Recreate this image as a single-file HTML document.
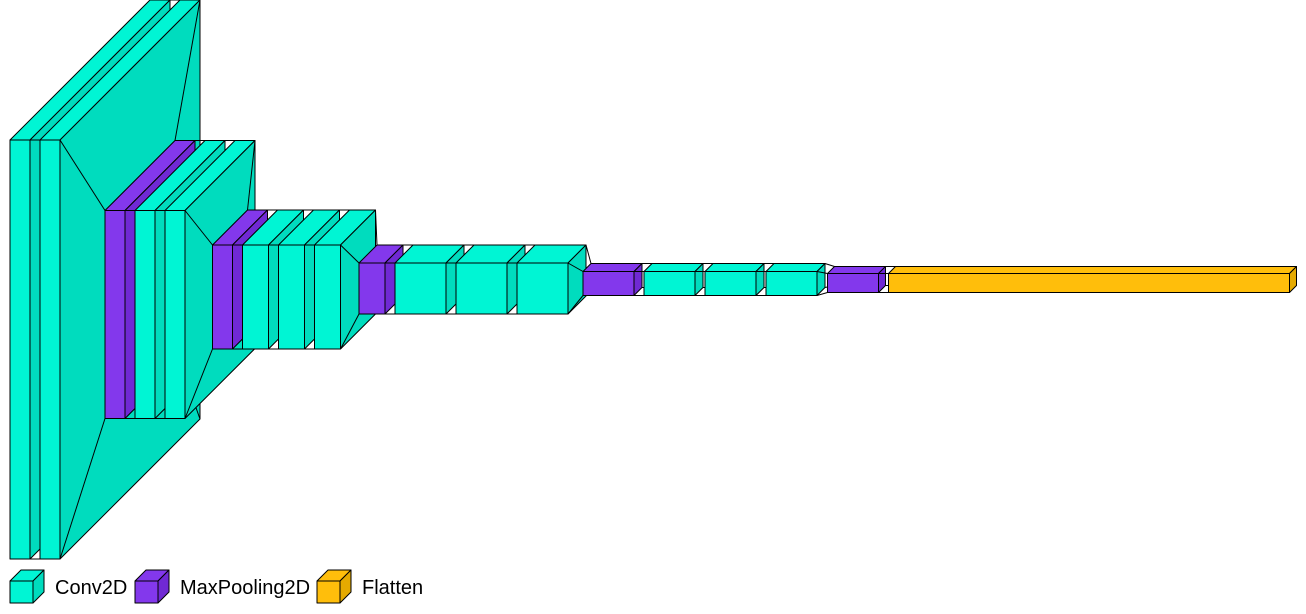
<!DOCTYPE html>
<html><head><meta charset="utf-8"><style>
html,body{margin:0;padding:0;background:#fff;}
svg{display:block;}
text{font-family:"Liberation Sans",sans-serif;font-size:20px;fill:#000;}
</style></head><body>
<svg id="chart" width="1306" height="614" viewBox="0 0 1306 614" xmlns="http://www.w3.org/2000/svg"></svg>
<script>
const layerTypes = ["conv","conv","pool","conv","conv","pool","conv","conv","conv","pool","conv","conv","conv","pool","conv","conv","conv","pool","flatten"];
const layerWidths = [20,20,20,20,20,20,26,26,26,26,51,51,51,51,51,51,51,51,401];
const layerHeights = [419,419,208,208,208,104,104,104,104,51,51,51,51,24,24,24,24,19,19];
const layerDepths = [140,140,70,70,70,35,35,35,35,18,18,18,18,8,8,8,8,7,7];
const legendLabels = ["Conv2D","MaxPooling2D","Flatten"];
const legendTypes = ["conv","pool","flatten"];

const colors = {
  conv:{front:"#00f5d4",side:"#00dcbe"},
  pool:{front:"#8338ec",side:"#7029d4"},
  flatten:{front:"#ffbe0b",side:"#e5aa00"}
};
const NS = "http://www.w3.org/2000/svg";
const svg = document.getElementById("chart");
const centerY = 279.5, startX = 10, spacing = 10;

function poly(pts, fill, parent){
  const p = document.createElementNS(NS,"polygon");
  p.setAttribute("points", pts.map(q=>q.join(",")).join(" "));
  p.setAttribute("fill", fill);
  p.setAttribute("stroke", "#000");
  p.setAttribute("stroke-width", "1");
  p.setAttribute("stroke-linejoin", "round");
  parent.appendChild(p);
  return p;
}
function line(a,b,parent){
  const l = document.createElementNS(NS,"line");
  l.setAttribute("x1",a[0]);l.setAttribute("y1",a[1]);
  l.setAttribute("x2",b[0]);l.setAttribute("y2",b[1]);
  l.setAttribute("stroke","#000");l.setAttribute("stroke-width","1");
  parent.appendChild(l);
}
function cube(x,y,w,h,d,c,g){
  poly([[x,y],[x+d,y-d],[x+w+d,y-d],[x+w,y]], c.front, g);
  poly([[x+w,y],[x+w+d,y-d],[x+w+d,y+h-d],[x+w,y+h]], c.side, g);
  poly([[x,y],[x+w,y],[x+w,y+h],[x,y+h]], c.front, g);
}

let x = startX, prev = null;
for (let i=0;i<layerTypes.length;i++){
  const w = layerWidths[i], h = layerHeights[i], d = layerDepths[i];
  if (prev) x = prev.x + prev.w + spacing + (prev.d - d)/2;
  const y = centerY - (h - d)/2;
  const box = {x,y,w,h,d};
  if (prev){
    const fg = document.createElementNS(NS,"g");
    
    
    svg.appendChild(fg);
    const px2 = prev.x+prev.w;
    line([px2,prev.y],[x,y],fg);
    line([px2+prev.d,prev.y-prev.d],[x+d,y-d],fg);
    line([px2,prev.y+prev.h],[x,y+h],fg);
    line([px2+prev.d,prev.y+prev.h-prev.d],[x+d,y+h-d],fg);
  }
  const g = document.createElementNS(NS,"g");
  
  
  svg.appendChild(g);
  cube(x,y,w,h,d,colors[layerTypes[i]],g);
  prev = box;
}

const legendX = [10,135,317];
for (let i=0;i<legendLabels.length;i++){
  const g = document.createElementNS(NS,"g");
  
  
  svg.appendChild(g);
  cube(legendX[i],581,23,22,11,colors[legendTypes[i]],g);
  const t = document.createElementNS(NS,"text");
  t.setAttribute("x", legendX[i]+45);
  t.setAttribute("y", 594);
  
  
  t.textContent = legendLabels[i];
  g.appendChild(t);
}
</script>
</body></html>
